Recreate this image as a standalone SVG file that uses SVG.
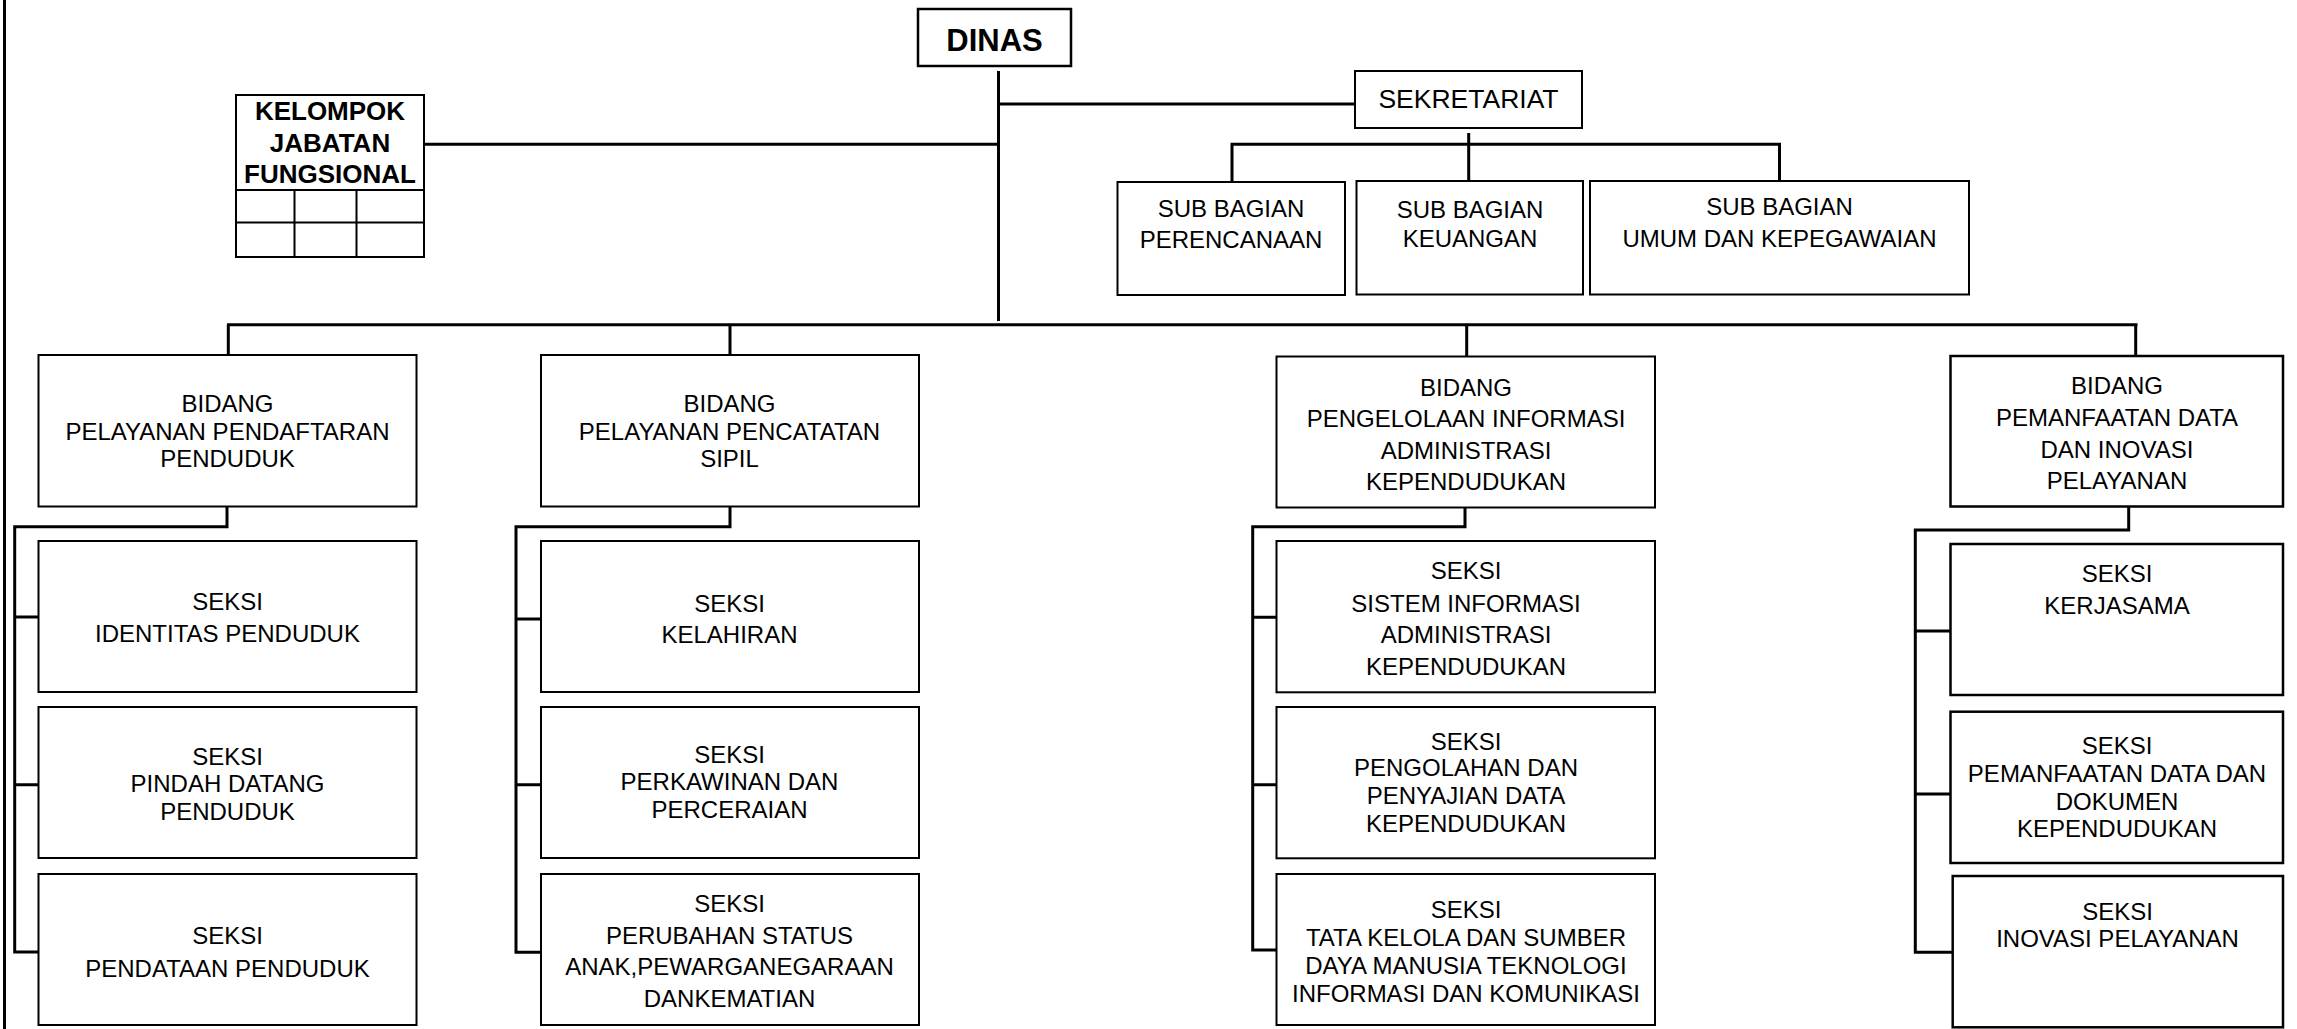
<svg xmlns="http://www.w3.org/2000/svg" width="2297" height="1029" viewBox="0 0 2297 1029">
<style>
.box{fill:#fff;stroke:#000;stroke-width:2}
.box2{fill:#fff;stroke:#000;stroke-width:2.5}
.t{font-family:"Liberation Sans",Arial,sans-serif;font-size:24px;fill:#000;text-anchor:middle}
.b{font-family:"Liberation Sans",Arial,sans-serif;font-weight:bold;fill:#000;text-anchor:middle}
.c{fill:none;stroke:#000;stroke-width:3;stroke-linejoin:miter}
.g{fill:none;stroke:#000;stroke-width:2}
</style>
<rect width="2297" height="1029" fill="#fff"/>
<g id="connectors">
<path class="c" d="M4.5 0V1029"/>
<path class="c" d="M998.5 71V321"/>
<path class="c" d="M998.5 104H1355"/>
<path class="c" d="M424 144.3H998.5"/>
<path class="c" d="M227 324.7H2137.5"/>
<path class="c" d="M228.3 324.7V355M730 324.7V355M1466.7 324.7V356.5M2135.7 324.7V356"/>
<path class="c" d="M1468.7 133V181M1232 181V144.3H1779.5V181"/>
<path class="c" d="M227 506.5V526.7H14.7V952H38.5M14.7 617H38.5M14.7 784.7H38.5"/>
<path class="c" d="M730 506.5V526.7H516V952.3H541M516 619H541M516 784.7H541"/>
<path class="c" d="M1465 508V526.7H1252.7V950H1276.5M1252.7 617.3H1276.5M1252.7 784.7H1276.5"/>
<path class="c" d="M2128.7 506.5V530H1915.3V952.3H1952.7M1915.3 631H1950.5M1915.3 794H1950.5"/>
</g>
<g id="dinas">
<rect class="box2" x="918" y="9" width="153" height="57"/>
<text class="b" x="994.5" y="51" font-size="31">DINAS</text>
</g>
<g id="sekretariat">
<rect class="box" x="1355" y="71" width="227" height="57"/>
<text class="t" x="1468.5" y="108" style="font-size:26.5px">SEKRETARIAT</text>
</g>
<g id="kelompok">
<rect class="box" x="236" y="95" width="188" height="162"/>
<path class="g" d="M236 190H424M236 222.5H424M294.5 190V257M356.5 190V257"/>
<text class="b" x="330" font-size="26"><tspan x="330" y="120">KELOMPOK</tspan><tspan x="330" y="151.5">JABATAN</tspan><tspan x="330" y="182.5">FUNGSIONAL</tspan></text>
</g>
<g id="sub-perencanaan">
<rect class="box" x="1117.5" y="182" width="227.5" height="113"/>
<text class="t"><tspan x="1231" y="216.7">SUB BAGIAN</tspan><tspan x="1231" y="247.7">PERENCANAAN</tspan></text>
</g>
<g id="sub-keuangan">
<rect class="box" x="1356.5" y="181" width="226.5" height="113.5"/>
<text class="t"><tspan x="1470" y="218.3">SUB BAGIAN</tspan><tspan x="1470" y="246.7">KEUANGAN</tspan></text>
</g>
<g id="sub-umum">
<rect class="box" x="1590" y="181" width="379" height="113.5"/>
<text class="t"><tspan x="1779.5" y="215">SUB BAGIAN</tspan><tspan x="1779.5" y="246.7">UMUM DAN KEPEGAWAIAN</tspan></text>
</g>
<g id="bidang-1">
<rect class="box" x="38.5" y="355" width="378" height="151.5"/>
<text class="t"><tspan x="227.5" y="412">BIDANG</tspan><tspan x="227.5" y="440">PELAYANAN PENDAFTARAN</tspan><tspan x="227.5" y="467">PENDUDUK</tspan></text>
</g>
<g id="bidang-2">
<rect class="box" x="541" y="355" width="378" height="151.5"/>
<text class="t"><tspan x="729.5" y="412">BIDANG</tspan><tspan x="729.5" y="440">PELAYANAN PENCATATAN</tspan><tspan x="729.5" y="467">SIPIL</tspan></text>
</g>
<g id="bidang-3">
<rect class="box" x="1276.5" y="356.5" width="378.5" height="151"/>
<text class="t"><tspan x="1466" y="395.7">BIDANG</tspan><tspan x="1466" y="426.7">PENGELOLAAN INFORMASI</tspan><tspan x="1466" y="458.7">ADMINISTRASI</tspan><tspan x="1466" y="490">KEPENDUDUKAN</tspan></text>
</g>
<g id="bidang-4">
<rect class="box2" x="1950.5" y="356" width="332.5" height="150.5"/>
<text class="t"><tspan x="2117" y="394.3">BIDANG</tspan><tspan x="2117" y="425.7">PEMANFAATAN DATA</tspan><tspan x="2117" y="457.7">DAN INOVASI</tspan><tspan x="2117" y="489.3">PELAYANAN</tspan></text>
</g>
<g id="seksi-identitas">
<rect class="box" x="38.5" y="541" width="378" height="151"/>
<text class="t"><tspan x="227.5" y="610">SEKSI</tspan><tspan x="227.5" y="641.7">IDENTITAS PENDUDUK</tspan></text>
</g>
<g id="seksi-pindah">
<rect class="box" x="38.5" y="707" width="378" height="151"/>
<text class="t"><tspan x="227.5" y="764.7">SEKSI</tspan><tspan x="227.5" y="792.3">PINDAH DATANG</tspan><tspan x="227.5" y="819.5">PENDUDUK</tspan></text>
</g>
<g id="seksi-pendataan">
<rect class="box" x="38.5" y="874" width="378" height="151"/>
<text class="t"><tspan x="227.5" y="944.4">SEKSI</tspan><tspan x="227.5" y="976.5">PENDATAAN PENDUDUK</tspan></text>
</g>
<g id="seksi-kelahiran">
<rect class="box" x="541" y="541" width="378" height="151"/>
<text class="t"><tspan x="729.5" y="611.8">SEKSI</tspan><tspan x="729.5" y="643">KELAHIRAN</tspan></text>
</g>
<g id="seksi-perkawinan">
<rect class="box" x="541" y="707" width="378" height="151"/>
<text class="t"><tspan x="729.5" y="763">SEKSI</tspan><tspan x="729.5" y="790">PERKAWINAN DAN</tspan><tspan x="729.5" y="818">PERCERAIAN</tspan></text>
</g>
<g id="seksi-perubahan">
<rect class="box" x="541" y="874" width="378" height="151"/>
<text class="t"><tspan x="729.5" y="911.7">SEKSI</tspan><tspan x="729.5" y="944">PERUBAHAN STATUS</tspan><tspan x="729.5" y="975">ANAK,PEWARGANEGARAAN</tspan><tspan x="729.5" y="1007.3">DANKEMATIAN</tspan></text>
</g>
<g id="seksi-sistem-informasi">
<rect class="box" x="1276.5" y="541" width="378.5" height="151.3"/>
<text class="t"><tspan x="1466" y="579.3">SEKSI</tspan><tspan x="1466" y="611.7">SISTEM INFORMASI</tspan><tspan x="1466" y="643.3">ADMINISTRASI</tspan><tspan x="1466" y="675">KEPENDUDUKAN</tspan></text>
</g>
<g id="seksi-pengolahan">
<rect class="box" x="1276.5" y="707" width="378.5" height="151.3"/>
<text class="t"><tspan x="1466" y="749.7">SEKSI</tspan><tspan x="1466" y="776.3">PENGOLAHAN DAN</tspan><tspan x="1466" y="804.3">PENYAJIAN DATA</tspan><tspan x="1466" y="832.3">KEPENDUDUKAN</tspan></text>
</g>
<g id="seksi-tata-kelola">
<rect class="box" x="1276.5" y="874" width="378.5" height="151"/>
<text class="t"><tspan x="1466" y="918.3">SEKSI</tspan><tspan x="1466" y="946.3">TATA KELOLA DAN SUMBER</tspan><tspan x="1466" y="974">DAYA MANUSIA TEKNOLOGI</tspan><tspan x="1466" y="1001.7">INFORMASI DAN KOMUNIKASI</tspan></text>
</g>
<g id="seksi-kerjasama">
<rect class="box2" x="1950.5" y="544" width="332.5" height="151"/>
<text class="t"><tspan x="2117" y="582.3">SEKSI</tspan><tspan x="2117" y="614.3">KERJASAMA</tspan></text>
</g>
<g id="seksi-pemanfaatan">
<rect class="box2" x="1950.5" y="711.7" width="332.5" height="151.3"/>
<text class="t"><tspan x="2117" y="754">SEKSI</tspan><tspan x="2117" y="782.3">PEMANFAATAN DATA DAN</tspan><tspan x="2117" y="810">DOKUMEN</tspan><tspan x="2117" y="837.3">KEPENDUDUKAN</tspan></text>
</g>
<g id="seksi-inovasi">
<rect class="box2" x="1952.7" y="876" width="330.3" height="151.3"/>
<text class="t"><tspan x="2117.5" y="919.7">SEKSI</tspan><tspan x="2117.5" y="947.3">INOVASI PELAYANAN</tspan></text>
</g>
</svg>
